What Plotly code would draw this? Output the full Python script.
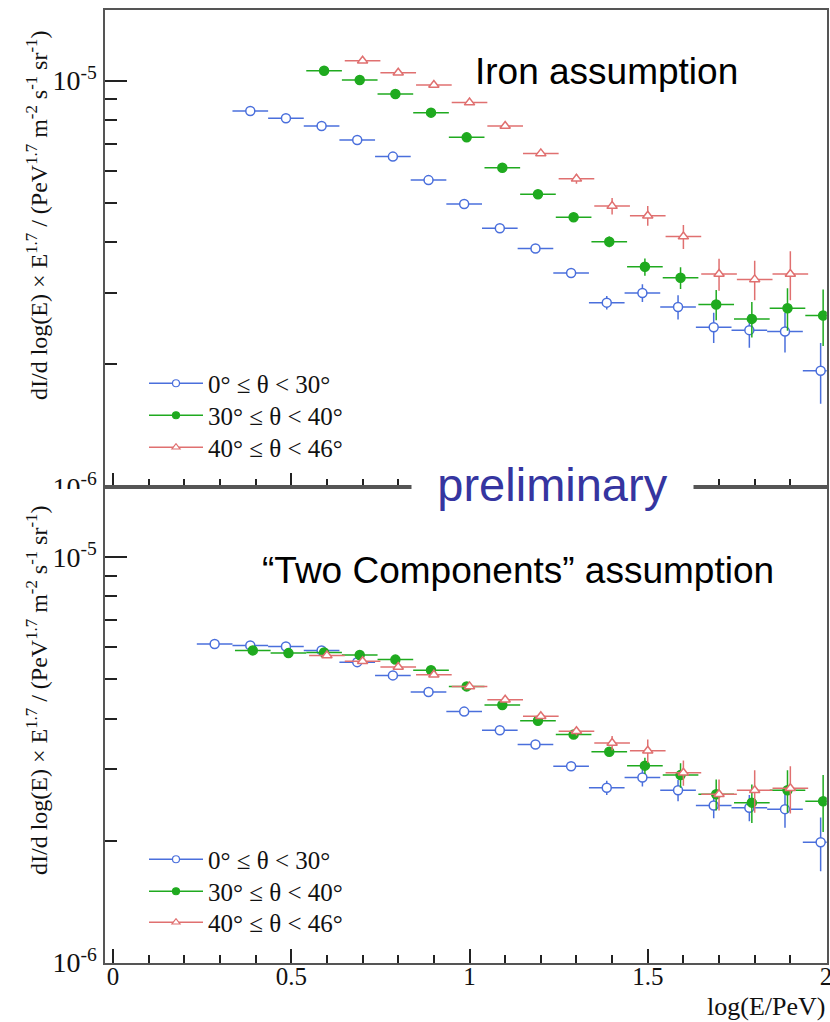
import plotly.graph_objects as go

# ---------------- data ----------------
# Top panel: Iron assumption
x_blue_top = [0.385, 0.485, 0.585, 0.685, 0.785, 0.885, 0.985, 1.085, 1.185, 1.285,
              1.385, 1.485, 1.585, 1.685, 1.785, 1.885, 1.985]
y_blue_top = [8.42e-6, 8.08e-6, 7.73e-6, 7.14e-6, 6.50e-6, 5.69e-6, 4.97e-6, 4.33e-6, 3.86e-6,
              3.36e-6, 2.84e-6, 3.00e-6, 2.77e-6, 2.47e-6, 2.43e-6, 2.41e-6, 1.93e-6]
e_blue_top = [0.05e-6, 0.05e-6, 0.05e-6, 0.05e-6, 0.05e-6, 0.05e-6, 0.05e-6, 0.05e-6, 0.05e-6,
              0.06e-6, 0.11e-6, 0.15e-6, 0.19e-6, 0.21e-6, 0.23e-6, 0.27e-6, 0.33e-6]

x_green_top = [0.592, 0.692, 0.792, 0.892, 0.992, 1.092, 1.192, 1.292, 1.392, 1.492,
               1.592, 1.692, 1.792, 1.892, 1.992]
y_green_top = [10.58e-6, 10.04e-6, 9.27e-6, 8.34e-6, 7.25e-6, 6.10e-6, 5.25e-6, 4.61e-6,
               4.01e-6, 3.48e-6, 3.27e-6, 2.81e-6, 2.59e-6, 2.75e-6, 2.64e-6]
e_green_top = [0.06e-6, 0.06e-6, 0.06e-6, 0.06e-6, 0.06e-6, 0.06e-6, 0.08e-6, 0.10e-6,
               0.12e-6, 0.17e-6, 0.20e-6, 0.24e-6, 0.26e-6, 0.33e-6, 0.42e-6]

x_red_top = [0.7, 0.8, 0.9, 1.0, 1.1, 1.2, 1.3, 1.4, 1.5, 1.6, 1.7, 1.8, 1.9]
y_red_top = [11.20e-6, 10.46e-6, 9.76e-6, 8.83e-6, 7.73e-6, 6.62e-6, 5.73e-6, 4.91e-6,
             4.65e-6, 4.13e-6, 3.34e-6, 3.24e-6, 3.34e-6]
e_red_top = [0.07e-6, 0.07e-6, 0.07e-6, 0.07e-6, 0.07e-6, 0.10e-6, 0.16e-6, 0.23e-6,
             0.26e-6, 0.28e-6, 0.30e-6, 0.36e-6, 0.46e-6]

# Bottom panel: "Two Components" assumption
x_blue_bot = [0.285, 0.385, 0.485, 0.585, 0.685, 0.785, 0.885, 0.985, 1.085, 1.185,
              1.285, 1.385, 1.485, 1.585, 1.685, 1.785, 1.885, 1.985]
y_blue_bot = [6.11e-6, 6.06e-6, 6.02e-6, 5.89e-6, 5.51e-6, 5.11e-6, 4.65e-6, 4.16e-6, 3.74e-6,
              3.45e-6, 3.05e-6, 2.70e-6, 2.86e-6, 2.66e-6, 2.44e-6, 2.41e-6, 2.39e-6, 1.98e-6]
e_blue_bot = [0.04e-6, 0.04e-6, 0.04e-6, 0.04e-6, 0.04e-6, 0.04e-6, 0.04e-6, 0.04e-6, 0.04e-6,
              0.04e-6, 0.05e-6, 0.11e-6, 0.14e-6, 0.16e-6, 0.17e-6, 0.18e-6, 0.24e-6, 0.30e-6]

x_green_bot = [0.392, 0.492, 0.592, 0.692, 0.792, 0.892, 0.992, 1.092, 1.192, 1.292,
               1.392, 1.492, 1.592, 1.692, 1.792, 1.892, 1.992]
y_green_bot = [5.89e-6, 5.80e-6, 5.82e-6, 5.74e-6, 5.59e-6, 5.26e-6, 4.80e-6, 4.32e-6,
               3.95e-6, 3.65e-6, 3.31e-6, 3.06e-6, 2.90e-6, 2.60e-6, 2.48e-6, 2.66e-6, 2.50e-6]
e_green_bot = [0.05e-6, 0.05e-6, 0.05e-6, 0.05e-6, 0.05e-6, 0.05e-6, 0.05e-6, 0.05e-6,
               0.05e-6, 0.07e-6, 0.08e-6, 0.14e-6, 0.20e-6, 0.23e-6, 0.27e-6, 0.32e-6, 0.40e-6]

x_red_bot = [0.6, 0.7, 0.8, 0.9, 1.0, 1.1, 1.2, 1.3, 1.4, 1.5, 1.6, 1.7, 1.8, 1.9]
y_red_bot = [5.72e-6, 5.54e-6, 5.36e-6, 5.13e-6, 4.80e-6, 4.45e-6, 4.05e-6, 3.72e-6,
             3.48e-6, 3.33e-6, 2.94e-6, 2.60e-6, 2.66e-6, 2.69e-6]
e_red_bot = [0.05e-6, 0.05e-6, 0.05e-6, 0.05e-6, 0.05e-6, 0.05e-6, 0.05e-6, 0.09e-6,
             0.14e-6, 0.22e-6, 0.21e-6, 0.23e-6, 0.32e-6, 0.36e-6]

bin_half_width = 0.05
series_names = ["0° ≤ θ < 30°", "30° ≤ θ < 40°", "40° ≤ θ < 46°"]
x_tick_vals = [0, 0.5, 1, 1.5, 2]
x_tick_text = ["0", "0.5", "1", "1.5", "2"]
x_minor_vals = [0.1, 0.2, 0.3, 0.4, 0.6, 0.7, 0.8, 0.9, 1.1, 1.2, 1.3, 1.4,
                1.6, 1.7, 1.8, 1.9]
y_tick_vals = [1e-6, 1e-5]
y_tick_text = ["10<sup>-6</sup>", "10<sup>-5</sup>"]
y_minor_vals = [2e-6, 3e-6, 4e-6, 5e-6, 6e-6, 7e-6, 8e-6, 9e-6]

# ---------------- styling ----------------
W, H = 830, 1022
BLUE = "#4a6fdc"
GREEN = "#1faa1f"
RED = "#e07070"
FRAME = "#555555"
SERIF = "Liberation Serif, Times New Roman, serif"
SANS = "Liberation Sans, Arial, Helvetica, sans-serif"

styles = [
    dict(color=BLUE, symbol="circle", fill="white"),
    dict(color=GREEN, symbol="circle", fill=GREEN),
    dict(color=RED, symbol="triangle-up", fill="white"),
]

def px_x(p):
    return p / W

def px_y(p):
    return 1 - p / H

fig = go.Figure()

panels = [
    ("x", "y", [(x_blue_top, y_blue_top, e_blue_top),
                (x_green_top, y_green_top, e_green_top),
                (x_red_top, y_red_top, e_red_top)]),
    ("x2", "y2", [(x_blue_bot, y_blue_bot, e_blue_bot),
                  (x_green_bot, y_green_bot, e_green_bot),
                  (x_red_bot, y_red_bot, e_red_bot)]),
]

for xa, ya, series in panels:
    for (xs, ys, es), st, name in zip(series, styles, series_names):
        fig.add_trace(go.Scatter(
            x=xs, y=ys, mode="markers", name=name, showlegend=False,
            xaxis=xa, yaxis=ya,
            marker=dict(symbol=st["symbol"], size=9, color=st["fill"],
                        line=dict(color=st["color"], width=1.5)),
            error_x=dict(type="constant", value=bin_half_width, color=st["color"],
                         thickness=1.5, width=0),
            error_y=dict(type="data", array=es, color=st["color"],
                         thickness=1.5, width=0),
        ))

legend_common = dict(
    font=dict(family=SERIF, size=25, color="#111111"),
    bgcolor="rgba(0,0,0,0)", borderwidth=0, itemwidth=54,
    xanchor="left", yanchor="top", tracegroupgap=0,
)

# legend entries: one small legend per row so that rows sit where the reference has them
legend_rows = {
    ("x", "y"): [378, 410, 442],
    ("x2", "y2"): [854, 886, 917],
}
legend_layout = {}
k = 0
for (xa, ya), rows in legend_rows.items():
    for st, name, row in zip(styles, series_names, rows):
        k += 1
        key = "legend" if k == 1 else f"legend{k}"
        fig.add_trace(go.Scatter(
            x=[None], y=[None], mode="lines+markers", name=name, legend=key,
            xaxis=xa, yaxis=ya,
            line=dict(color=st["color"], width=1.5),
            marker=dict(symbol=st["symbol"], size=7, color=st["fill"],
                        line=dict(color=st["color"], width=1.2)),
        ))
        legend_layout[key] = dict(x=px_x(144), y=px_y(row - 17.5), **legend_common)

x_dom = [px_x(104.5), px_x(826.7)]
top_dom = [px_y(486.7), px_y(10)]
bot_dom = [px_y(962.5), px_y(486.7)]

def xaxis_cfg(anchor, labels):
    return dict(
        domain=x_dom, anchor=anchor, range=[-0.024, 2.002], automargin=False,
        showline=True, mirror=True, linecolor=FRAME, linewidth=2,
        showgrid=False, zeroline=False,
        ticks="inside", tickmode="array", tickvals=x_tick_vals, ticktext=x_tick_text,
        ticklen=14, tickwidth=1.5, tickcolor="#222222",
        showticklabels=labels, ticklabelstandoff=-10, ticklabeloverflow="allow",
        tickfont=dict(family=SERIF, size=25, color="#111111"),
        minor=dict(ticks="inside", tickmode="array", tickvals=x_minor_vals,
                   ticklen=8, tickwidth=1.5, tickcolor="#222222", showgrid=False),
    )

def yaxis_cfg(anchor, dom):
    return dict(
        domain=dom, anchor=anchor, type="log", range=[-6, -4.826], automargin=False,
        showline=True, mirror=True, linecolor=FRAME, linewidth=2,
        showgrid=False, zeroline=False,
        ticks="inside", tickmode="array", tickvals=y_tick_vals, ticktext=y_tick_text,
        ticklen=22, tickwidth=1.5, tickcolor="#222222",
        tickfont=dict(family=SERIF, size=28, color="#111111"),
        minor=dict(ticks="inside", tickmode="array", tickvals=y_minor_vals,
                   ticklen=12, tickwidth=1.5, tickcolor="#222222", showgrid=False),
    )

ytitle = ("dI/d log(E) × E<sup>1.7</sup> / (PeV<sup>1.7</sup> "
          "m<sup>-2</sup> s<sup>-1</sup> sr<sup>-1</sup>)")

def ann(text, x, y, size, family, color="#111111", xanchor="center", **kw):
    return dict(text=text, x=px_x(x), y=px_y(y), xref="paper", yref="paper",
                xanchor=xanchor, yanchor="middle", showarrow=False,
                font=dict(family=family, size=size, color=color), **kw)

fig.update_layout(
    width=W, height=H, autosize=False,
    margin=dict(l=0, r=0, t=0, b=0, pad=0, autoexpand=False),
    paper_bgcolor="white", plot_bgcolor="white",
    xaxis=xaxis_cfg("y", False),
    yaxis=yaxis_cfg("x", top_dom),
    xaxis2=xaxis_cfg("y2", True),
    yaxis2=yaxis_cfg("x2", bot_dom),
    **legend_layout,
    shapes=[
        # the lower pad hides the lower half of the upper pad's 10^-6 label
        dict(type="rect", xref="paper", yref="paper", x0=0, x1=px_x(102),
             y0=px_y(500), y1=px_y(489), fillcolor="white", line=dict(width=0),
             layer="above"),
    ],
    annotations=[
        ann("Iron assumption", 606, 71, 37, SANS, color="black"),
        ann("“Two Components” assumption", 518, 570, 37, SANS, color="black"),
        ann("preliminary", 552, 484, 47, SANS, color="#3535a0",
            bgcolor="white", width=277, borderpad=2),
        ann(ytitle, 37, 216, 24, SERIF, textangle=-90),
        ann(ytitle, 37, 691, 24, SERIF, textangle=-90),
        ann("log(E/PeV)", 827, 1006, 26, SERIF, xanchor="right"),
    ],
)

fig.write_html("out.html",
               config={"displayModeBar": False},
               post_script="document.body.style.margin='0px';"
                           "document.body.style.overflow='hidden';")
